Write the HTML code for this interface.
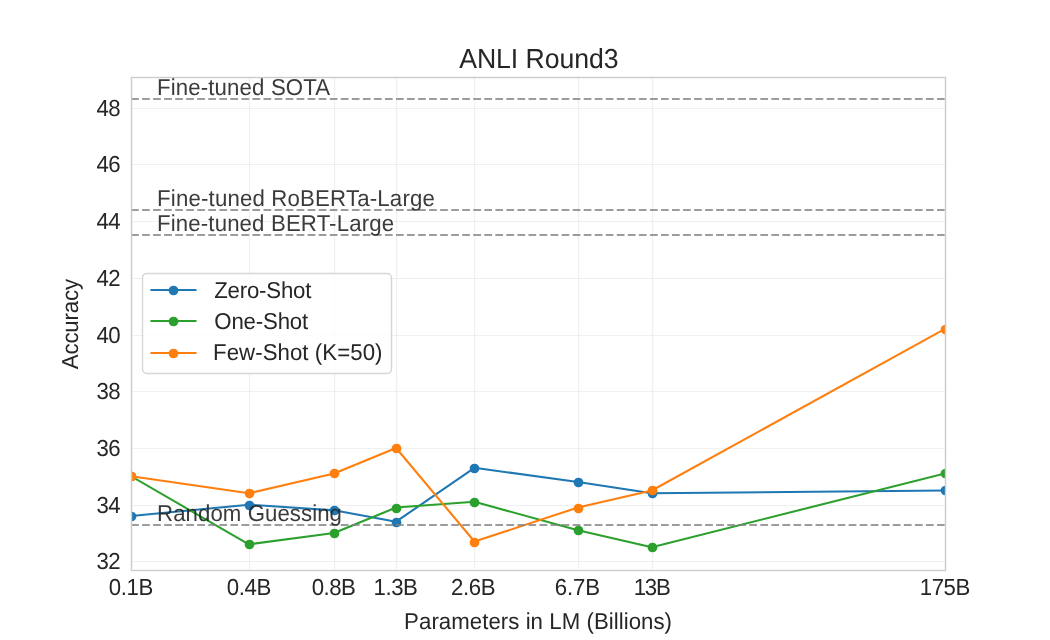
<!DOCTYPE html>
<html lang="en"><head><meta charset="utf-8"><title>ANLI Round3</title>
<style>html,body{margin:0;padding:0;background:#fff;}svg{display:block;}text{font-family:"Liberation Sans",sans-serif;fill:#262626;text-rendering:geometricPrecision;}</style></head><body>
<svg width="1050" height="640" viewBox="0 0 1050 640">
<rect width="1050" height="640" fill="#fff"/>
<defs><clipPath id="ax"><rect x="131.25" y="76.80" width="813.75" height="492.80"/></clipPath></defs>
<g stroke="#cccccc" stroke-opacity="0.3" stroke-width="1.15" fill="none">
<path d="M131.5 76.80V569.60"/>
<path d="M249.5 76.80V569.60"/>
<path d="M334.5 76.80V569.60"/>
<path d="M396.5 76.80V569.60"/>
<path d="M474.5 76.80V569.60"/>
<path d="M578.5 76.80V569.60"/>
<path d="M652.5 76.80V569.60"/>
<path d="M945.5 76.80V569.60"/>
<path d="M131.25 561.5H945.00"/>
<path d="M131.25 505.5H945.00"/>
<path d="M131.25 448.5H945.00"/>
<path d="M131.25 391.5H945.00"/>
<path d="M131.25 335.5H945.00"/>
<path d="M131.25 278.5H945.00"/>
<path d="M131.25 221.5H945.00"/>
<path d="M131.25 164.5H945.00"/>
<path d="M131.25 108.5H945.00"/>
</g>
<g clip-path="url(#ax)">
<polyline points="131.25,516.01 248.85,504.67 334.07,510.34 396.11,521.68 474.42,467.81 577.97,481.98 651.82,493.33 945.00,490.49" fill="none" stroke="#1f77b4" stroke-width="2.083" stroke-linejoin="round" stroke-linecap="round"/>
<g fill="#1f77b4"><circle cx="131.5" cy="516.5" r="4.86"/><circle cx="249.5" cy="505.5" r="4.86"/><circle cx="334.5" cy="510.5" r="4.86"/><circle cx="396.5" cy="522.5" r="4.86"/><circle cx="474.5" cy="468.5" r="4.86"/><circle cx="578.5" cy="482.5" r="4.86"/><circle cx="652.5" cy="493.5" r="4.86"/><circle cx="945.5" cy="490.5" r="4.86"/></g>
<polyline points="131.25,476.31 248.85,544.36 334.07,533.02 396.11,507.50 474.42,501.83 577.97,530.19 651.82,547.20 945.00,473.48" fill="none" stroke="#2ca02c" stroke-width="2.083" stroke-linejoin="round" stroke-linecap="round"/>
<g fill="#2ca02c"><circle cx="131.5" cy="476.5" r="4.86"/><circle cx="249.5" cy="544.5" r="4.86"/><circle cx="334.5" cy="533.5" r="4.86"/><circle cx="396.5" cy="508.5" r="4.86"/><circle cx="474.5" cy="502.5" r="4.86"/><circle cx="578.5" cy="530.5" r="4.86"/><circle cx="652.5" cy="547.5" r="4.86"/><circle cx="945.5" cy="473.5" r="4.86"/></g>
<polyline points="131.25,476.31 248.85,493.33 334.07,473.48 396.11,447.96 474.42,541.53 577.97,507.50 651.82,490.49 945.00,328.87" fill="none" stroke="#ff7f0e" stroke-width="2.083" stroke-linejoin="round" stroke-linecap="round"/>
<g fill="#ff7f0e"><circle cx="131.5" cy="476.5" r="4.86"/><circle cx="249.5" cy="493.5" r="4.86"/><circle cx="334.5" cy="473.5" r="4.86"/><circle cx="396.5" cy="448.5" r="4.86"/><circle cx="474.5" cy="542.5" r="4.86"/><circle cx="578.5" cy="508.5" r="4.86"/><circle cx="652.5" cy="490.5" r="4.86"/><circle cx="945.5" cy="329.5" r="4.86"/></g>
<path d="M131.25 99H945.00" stroke="#808080" stroke-opacity="0.78" stroke-width="2.083" stroke-dasharray="7.708 3.333" stroke-dashoffset="0.24" fill="none"/>
<path d="M131.25 210H945.00" stroke="#808080" stroke-opacity="0.78" stroke-width="2.083" stroke-dasharray="7.708 3.333" stroke-dashoffset="0.24" fill="none"/>
<path d="M131.25 235H945.00" stroke="#808080" stroke-opacity="0.78" stroke-width="2.083" stroke-dasharray="7.708 3.333" stroke-dashoffset="0.24" fill="none"/>
<path d="M131.25 525H945.00" stroke="#808080" stroke-opacity="0.78" stroke-width="2.083" stroke-dasharray="7.708 3.333" stroke-dashoffset="0.24" fill="none"/>
</g>
<rect x="131.5" y="77.5" width="814.0" height="493.0" fill="none" stroke="#cccccc" stroke-width="1.389"/>
<text transform="translate(459.24,68.00) scale(1,1.030)" font-size="26.667" textLength="159.24">ANLI Round3</text>
<text transform="translate(157.03,95.00) scale(1,1.035)" font-size="22.222" textLength="173.16" fill-opacity="0.9">Fine-tuned SOTA</text>
<text transform="translate(157.03,206.00) scale(1,1.035)" font-size="22.222" textLength="277.85" fill-opacity="0.9">Fine-tuned RoBERTa-Large</text>
<text transform="translate(157.03,231.00) scale(1,1.035)" font-size="22.222" textLength="237.02" fill-opacity="0.9">Fine-tuned BERT-Large</text>
<text transform="translate(157.03,521.00) scale(1,1.035)" font-size="22.222" textLength="184.96" fill-opacity="0.9">Random Guessing</text>
<text transform="translate(404.11,629.00) scale(1,1.035)" font-size="22.222" textLength="267.91">Parameters in LM (Billions)</text>
<text transform="translate(108.70,595.00) scale(1,1.046)" font-size="22.222" textLength="44.53">0.1B</text>
<text transform="translate(226.80,595.00) scale(1,1.046)" font-size="22.222" textLength="44.42">0.4B</text>
<text transform="translate(311.80,595.00) scale(1,1.046)" font-size="22.222" textLength="44.04">0.8B</text>
<text transform="translate(373.49,595.00) scale(1,1.046)" font-size="22.222" textLength="44.45">1.3B</text>
<text transform="translate(450.99,595.00) scale(1,1.046)" font-size="22.222" textLength="44.70">2.6B</text>
<text transform="translate(554.85,595.00) scale(1,1.046)" font-size="22.222" textLength="45.14">6.7B</text>
<text transform="translate(633.82,595.00) scale(1,1.046)" font-size="22.222" textLength="36.90">13B</text>
<text transform="translate(919.82,595.00) scale(1,1.046)" font-size="22.222" textLength="50.41">175B</text>
<text transform="translate(120.5,569) scale(1,1.046)" font-size="22.222" text-anchor="end" textLength="24">32</text>
<text transform="translate(120.5,513) scale(1,1.046)" font-size="22.222" text-anchor="end" textLength="24">34</text>
<text transform="translate(120.5,456) scale(1,1.046)" font-size="22.222" text-anchor="end" textLength="24">36</text>
<text transform="translate(120.5,399) scale(1,1.046)" font-size="22.222" text-anchor="end" textLength="24">38</text>
<text transform="translate(120.5,343) scale(1,1.046)" font-size="22.222" text-anchor="end" textLength="24">40</text>
<text transform="translate(120.5,286) scale(1,1.046)" font-size="22.222" text-anchor="end" textLength="24">42</text>
<text transform="translate(120.5,229) scale(1,1.046)" font-size="22.222" text-anchor="end" textLength="24">44</text>
<text transform="translate(120.5,172) scale(1,1.046)" font-size="22.222" text-anchor="end" textLength="24">46</text>
<text transform="translate(120.5,116) scale(1,1.046)" font-size="22.222" text-anchor="end" textLength="24">48</text>
<text transform="translate(78,324.10) rotate(-90) scale(1,1.035)" font-size="22.222" text-anchor="middle" textLength="90.2">Accuracy</text>
<rect x="142.5" y="273.5" width="249" height="100" rx="4.4" ry="4.4" fill="#fff" fill-opacity="0.8" stroke="#cccccc" stroke-opacity="0.8" stroke-width="1.389"/>
<path d="M151.25 290.00H195.7" stroke="#1f77b4" stroke-width="2.083" stroke-linecap="round" fill="none"/>
<circle cx="173.5" cy="290.50" r="4.86" fill="#1f77b4"/>
<text transform="translate(214.22,298.00) scale(1,1.035)" font-size="22.222" textLength="97.24">Zero-Shot</text>
<path d="M151.25 321.00H195.7" stroke="#2ca02c" stroke-width="2.083" stroke-linecap="round" fill="none"/>
<circle cx="173.5" cy="321.50" r="4.86" fill="#2ca02c"/>
<text transform="translate(214.35,329.00) scale(1,1.035)" font-size="22.222" textLength="93.81">One-Shot</text>
<path d="M151.25 353.00H195.7" stroke="#ff7f0e" stroke-width="2.083" stroke-linecap="round" fill="none"/>
<circle cx="173.5" cy="353.50" r="4.86" fill="#ff7f0e"/>
<text transform="translate(213.04,360.00) scale(1,1.035)" font-size="22.222" textLength="169.42">Few-Shot (K=50)</text>
</svg></body></html>
